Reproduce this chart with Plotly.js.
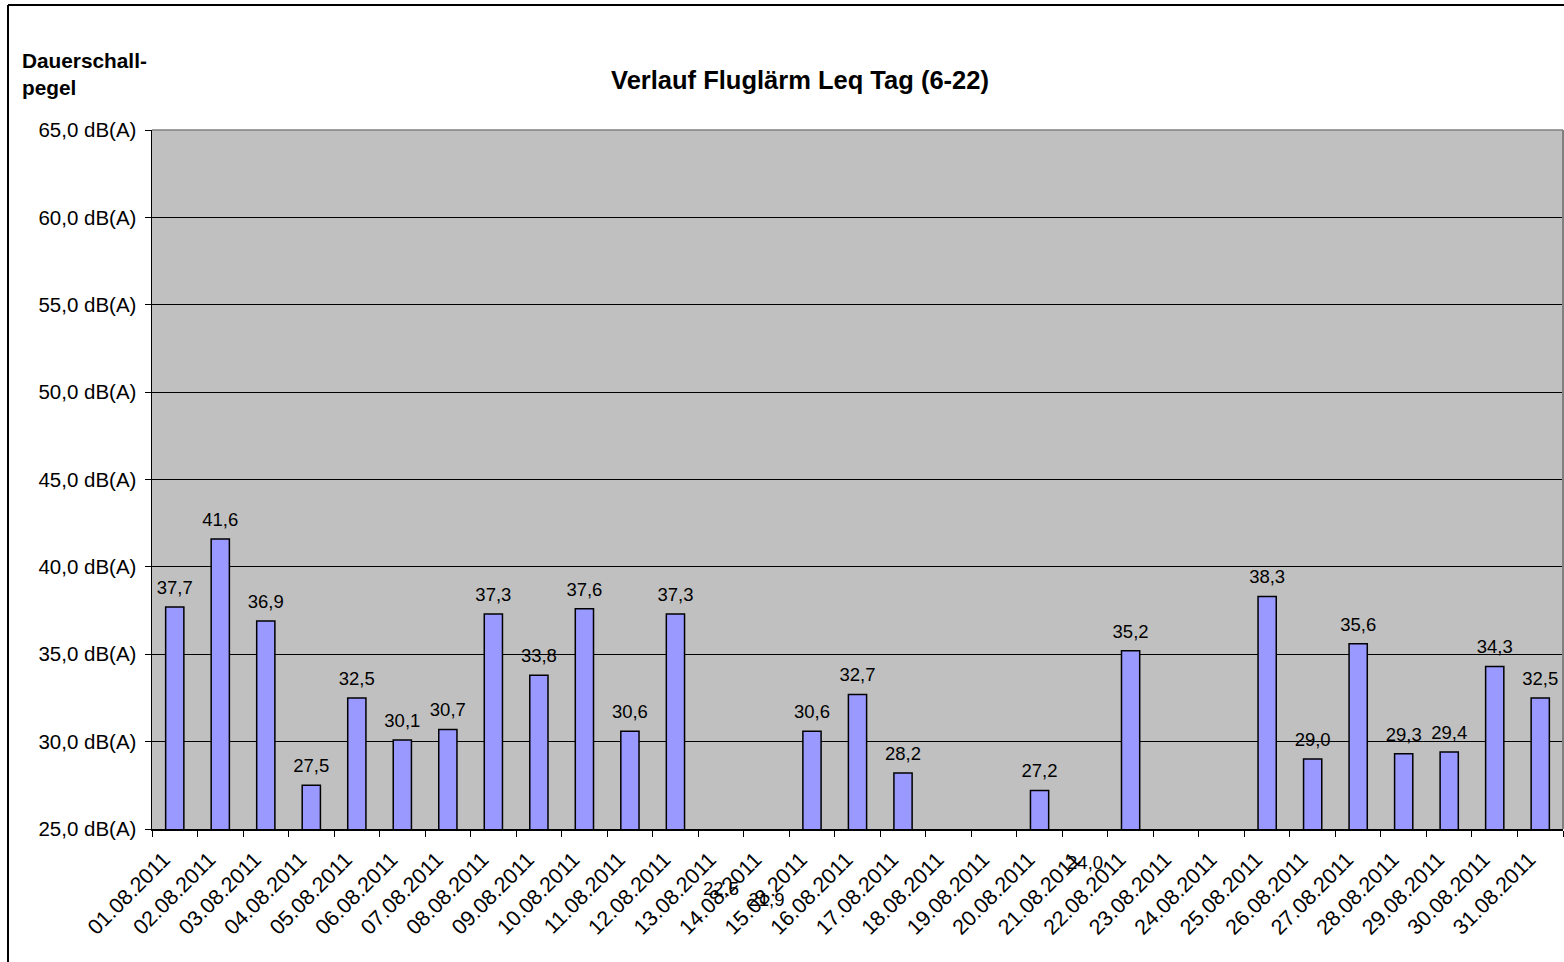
<!DOCTYPE html>
<html>
<head>
<meta charset="utf-8">
<script src="https://cdn.plot.ly/plotly-3.0.1.min.js"></script>
<style>html,body{margin:0;padding:0;background:#fff;}#chart{width:1564px;height:962px;}</style>
</head>
<body>
<div id="chart"></div>
<script>
const categories = ["01.08.2011","02.08.2011","03.08.2011","04.08.2011","05.08.2011","06.08.2011","07.08.2011","08.08.2011","09.08.2011","10.08.2011","11.08.2011","12.08.2011","13.08.2011","14.08.2011","15.08.2011","16.08.2011","17.08.2011","18.08.2011","19.08.2011","20.08.2011","21.08.2011","22.08.2011","23.08.2011","24.08.2011","25.08.2011","26.08.2011","27.08.2011","28.08.2011","29.08.2011","30.08.2011","31.08.2011"];
const leqValues = [37.7, 41.6, 36.9, 27.5, 32.5, 30.1, 30.7, 37.3, 33.8, 37.6, 30.6, 37.3, 22.5, 21.9, 30.6, 32.7, 28.2, null, null, 27.2, 24.0, 35.2, null, null, 38.3, 29.0, 35.6, 29.3, 29.4, 34.3, 32.5];
const yTickValues = [25, 30, 35, 40, 45, 50, 55, 60, 65];
const yMin = 25, yMax = 65;

const FONT = "Liberation Sans, Arial, sans-serif";
const W = 1564, H = 962;
const plotLeft = 152, plotTop = 130, plotBottom = 829;
const pxPerUnit = (plotBottom - plotTop) / (yMax - yMin);
const mainDomainBottom = (H - plotBottom) / (H - plotTop);
const overlayMin = yMin - (H - plotBottom) / pxPerUnit;

const labelText = leqValues.map(v => v === null ? "" : v.toFixed(1).replace(".", ","));
const labelPos = leqValues.map(v => (v !== null && v < yMin) ? "bottom center" : "top center");

const bars = {
  type: "bar",
  x: categories,
  y: leqValues,
  xaxis: "x", yaxis: "y",
  marker: {color: "#9999FF", line: {color: "#000000", width: 1.5}},
  hoverinfo: "skip"
};
const labels = {
  type: "scatter",
  mode: "markers+text",
  x: categories,
  y: leqValues,
  xaxis: "x2", yaxis: "y2",
  text: labelText,
  textposition: labelPos,
  textfont: {family: FONT, size: 18.5, color: "#000"},
  marker: {size: 12, opacity: 0},
  cliponaxis: false,
  hoverinfo: "skip",
  showlegend: false
};

const pw = W - plotLeft - 1, ph = H - plotTop;
const px = x => (x - plotLeft) / pw;
const py = y => (H - y) / ph;

const layout = {
  width: W, height: H,
  margin: {l: plotLeft, r: 1, t: plotTop, b: 0},
  paper_bgcolor: "#ffffff",
  plot_bgcolor: "rgba(0,0,0,0)",
  showlegend: false,
  hovermode: false,
  separators: ",.",
  bargap: 0.6,
  font: {family: FONT, color: "#000"},
  title: {
    text: "<b>Verlauf Fluglärm Leq Tag (6-22)</b>",
    font: {family: FONT, size: 25.5, color: "#000"},
    xref: "container", x: 800 / W, xanchor: "center",
    yref: "container", y: 1 - 80 / H, yanchor: "middle"
  },
  xaxis: {
    type: "category",
    range: [-0.5, categories.length - 0.5],
    domain: [0, 1],
    anchor: "y",
    tickangle: -45,
    tickson: "boundaries",
    ticks: "outside", ticklen: 6, tickcolor: "#000", tickwidth: 1,
    ticklabelshift: -11,
    ticklabelstandoff: 8,
    showline: true, linecolor: "#000", linewidth: 1.5,
    showgrid: false, zeroline: false,
    tickfont: {family: FONT, size: 21.5, color: "#000"},
    automargin: false,
    fixedrange: true
  },
  yaxis: {
    range: [yMin, yMax],
    domain: [mainDomainBottom, 1],
    anchor: "x",
    tickvals: yTickValues,
    ticktext: yTickValues.map(v => v.toFixed(1).replace(".", ",") + " dB(A)"),
    ticks: "outside", ticklen: 6, tickcolor: "#000", tickwidth: 1,
    ticklabelstandoff: 4,
    showline: true, linecolor: "#000", linewidth: 1.5,
    showgrid: true, gridcolor: "#000", gridwidth: 1,
    zeroline: false,
    tickfont: {family: FONT, size: 20.5, color: "#000"},
    automargin: false,
    fixedrange: true
  },
  xaxis2: {
    type: "category",
    range: [-0.5, categories.length - 0.5],
    domain: [0, 1],
    anchor: "y2",
    visible: false,
    fixedrange: true
  },
  yaxis2: {
    range: [overlayMin, yMax],
    domain: [0, 1],
    anchor: "x2",
    visible: false,
    fixedrange: true
  },
  annotations: [{
    text: "<b>Dauerschall-<br>pegel</b>",
    xref: "paper", x: px(20), xanchor: "left",
    yref: "paper", y: py(74), yanchor: "middle",
    align: "left", showarrow: false,
    font: {family: FONT, size: 20.8, color: "#000"}
  }],
  shapes: [
    {type: "rect", xref: "x domain", yref: "y domain", x0: 0, x1: 1, y0: 0, y1: 1, fillcolor: "#C0C0C0", line: {width: 0}, layer: "below"},
    {type: "line", xref: "x domain", yref: "y domain", x0: 0, x1: 1, y0: 1, y1: 1, line: {color: "#808080", width: 1.5}, layer: "above"},
    {type: "line", xref: "x domain", yref: "y domain", x0: 1, x1: 1, y0: 0, y1: 1, line: {color: "#808080", width: 2}, layer: "above"},
    {type: "line", xref: "paper", yref: "paper", x0: px(8), x1: px(1600), y0: py(5), y1: py(5), line: {color: "#000", width: 2}, layer: "above"},
    {type: "line", xref: "paper", yref: "paper", x0: px(8), x1: px(8), y0: py(5), y1: py(1000), line: {color: "#000", width: 2}, layer: "above"}
  ]
};

Plotly.newPlot("chart", [bars, labels], layout, {displayModeBar: false, staticPlot: true});
</script>
</body>
</html>
